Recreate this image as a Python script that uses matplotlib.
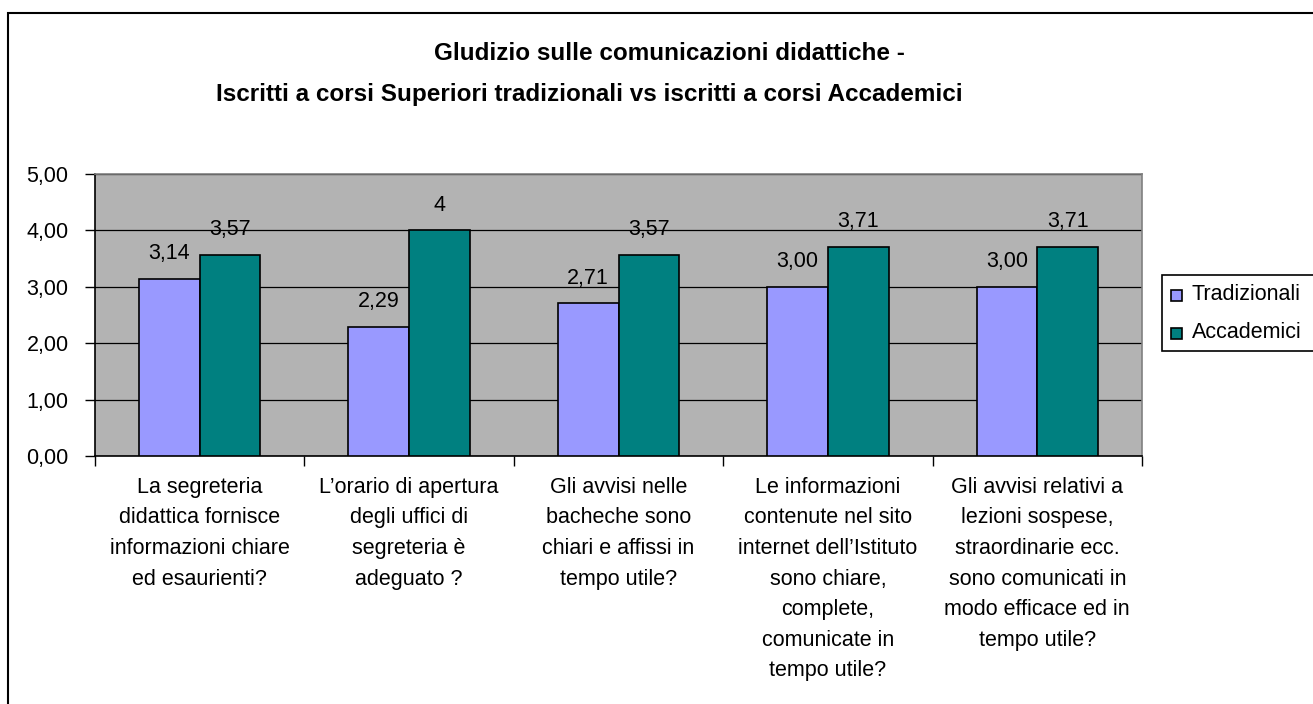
import matplotlib
matplotlib.use("Agg")
import matplotlib.pyplot as plt
from matplotlib.patches import Rectangle
import numpy as np

plt.rcParams['font.family'] = ['Liberation Sans', 'DejaVu Sans']

categories = [
    "La segreteria\ndidattica fornisce\ninformazioni chiare\ned esaurienti?",
    "L\u2019orario di apertura\ndegli uffici di\nsegreteria è\nadeguato ?",
    "Gli avvisi nelle\nbacheche sono\nchiari e affissi in\ntempo utile?",
    "Le informazioni\ncontenute nel sito\ninternet dell\u2019Istituto\nsono chiare,\ncomplete,\ncomunicate in\ntempo utile?",
    "Gli avvisi relativi a\nlezioni sospese,\nstraordinarie ecc.\nsono comunicati in\nmodo efficace ed in\ntempo utile?",
]
series_names = ["Tradizionali", "Accademici"]
tradizionali = [3.14, 2.29, 2.71, 3.00, 3.00]
accademici = [3.57, 4.00, 3.57, 3.71, 3.71]
labels_trad = ["3,14", "2,29", "2,71", "3,00", "3,00"]
labels_acc = ["3,57", "4", "3,57", "3,71", "3,71"]
yticks = [0, 1, 2, 3, 4, 5]
ytick_labels = ["0,00", "1,00", "2,00", "3,00", "4,00", "5,00"]
title1 = "Gludizio sulle comunicazioni didattiche -"
title2 = "Iscritti a corsi Superiori tradizionali vs iscritti a corsi Accademici"

W, H = 1313, 704
fig = plt.figure(figsize=(W / 100, H / 100), dpi=100)
FS = 15.5

def fx(x):
    return x / W

def fy(y):
    return 1 - y / H

# outer chart border
fig.patches.append(Rectangle((fx(8), fy(H + 20)), fx(W + 20) - fx(8), fy(13) - fy(H + 20),
                             transform=fig.transFigure, fill=False, edgecolor='black',
                             linewidth=1.5, zorder=0))

L, R, T, B = 95, 1142, 174, 456
ax = fig.add_axes([fx(L), fy(B), fx(R) - fx(L), fy(T) - fy(B)])
ax.set_facecolor('#B3B3B3')

c_trad = '#9999FF'
c_acc = '#008080'
x = np.arange(len(categories))
bw = 0.29
b1 = ax.bar(x - bw / 2, tradizionali, bw, color=c_trad, edgecolor='black', linewidth=1.2, zorder=3)
b2 = ax.bar(x + bw / 2, accademici, bw, color=c_acc, edgecolor='black', linewidth=1.2, zorder=3)

for bars, labs in ((b1, labels_trad), (b2, labels_acc)):
    for rect, lab in zip(bars, labs):
        ax.annotate(lab, (rect.get_x() + rect.get_width() / 2, rect.get_height()),
                    xytext=(0, 18), textcoords='offset points', ha='center', va='center',
                    fontsize=FS, zorder=4)

ax.set_xlim(-0.5, len(categories) - 0.5)
ax.set_ylim(0, 5)
ax.set_yticks(yticks)
ax.set_yticklabels(ytick_labels, fontsize=FS)
ax.yaxis.grid(True, color='black', linewidth=0.9, zorder=1)
ax.set_axisbelow(True)

ax.set_xticks(np.arange(len(categories) + 1) - 0.5)
ax.set_xticklabels([])
ax.set_xticks(x, minor=True)
ax.set_xticklabels(categories, minor=True, fontsize=FS, linespacing=1.6, va='top')
ax.tick_params(axis='x', which='minor', length=0, pad=15)
ax.tick_params(axis='x', which='major', length=7, width=1, color='black')
ax.tick_params(axis='y', length=7, width=1, pad=12)

for s in ('top', 'right'):
    ax.spines[s].set_color('#808080')
    ax.spines[s].set_linewidth(1.2)
for s in ('left', 'bottom'):
    ax.spines[s].set_color('black')
    ax.spines[s].set_linewidth(1.2)

# title
fig.text(fx(669), fy(54), title1, ha='center', va='center', fontsize=17.5, fontweight='bold')
fig.text(fx(589), fy(94), title2, ha='center', va='center', fontsize=17.5, fontweight='bold')

# legend
fig.patches.append(Rectangle((fx(1162), fy(351)), fx(W + 20) - fx(1162), fy(275) - fy(351),
                             transform=fig.transFigure, facecolor='white', edgecolor='black',
                             linewidth=1.2, zorder=2))
for name, col, yc in ((series_names[0], c_trad, 295), (series_names[1], c_acc, 333)):
    fig.patches.append(Rectangle((fx(1171), fy(yc + 6)), fx(11), fy(0) - fy(11),
                                 transform=fig.transFigure, facecolor=col, edgecolor='black',
                                 linewidth=1.2, zorder=3))
    fig.text(fx(1192), fy(yc), name, ha='left', va='center', fontsize=FS, zorder=4)

fig.savefig('out.png', dpi=100)
